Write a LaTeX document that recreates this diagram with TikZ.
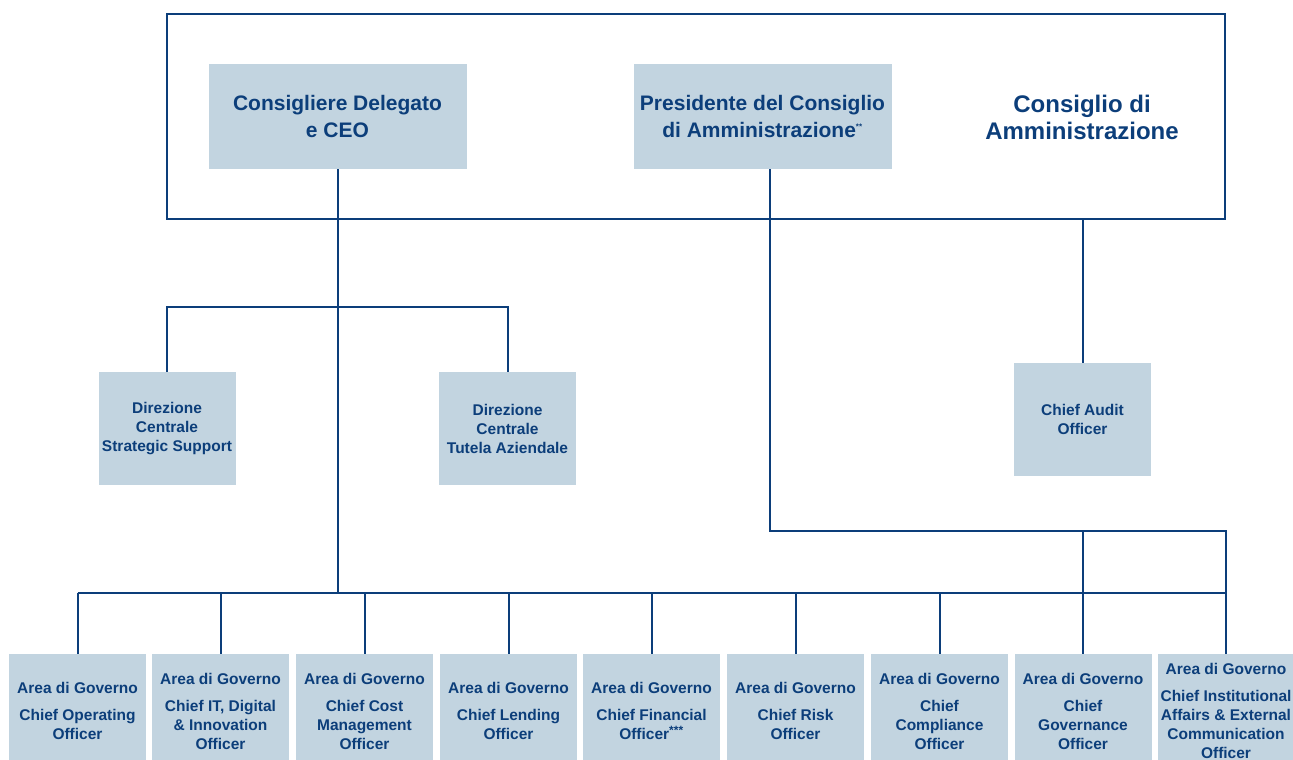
\documentclass[tikz,border=0pt]{standalone}
\usepackage{fontspec}
\setmainfont{Liberation Sans}
\definecolor{navy}{RGB}{12,62,122}
\definecolor{paleblue}{RGB}{194,212,224}

\begin{document}
\begin{tikzpicture}[x=1pt, y=-1pt,
                box/.style={rectangle, fill=paleblue, text=navy, align=center, inner sep=0pt, font=\bfseries\fontsize{15.5}{19}\selectfont},
                area/.style={box, minimum width=137pt, minimum height=114pt},
                dir/.style={box, minimum width=137pt, minimum height=113pt},
                head/.style={box, minimum width=258pt, minimum height=105pt, font=\bfseries\fontsize{21}{27}\selectfont},
                link/.style={draw=navy, line width=2pt}
            ]
                \useasboundingbox (0,0) rectangle (1293,760);
                \node[draw=navy, line width=2pt, minimum width=1058pt, minimum height=205pt] (board) at (696,116.5) {};
                \node[text=navy, align=center, font=\bfseries\fontsize{24}{27}\selectfont] (boardlbl) at (1082,117) {Consiglio di\\Amministrazione};
                \node[head] (ceo) at (337.5,116.5) {Consigliere Delegato\\e CEO};
                \node[head] (pres) at (762.5,116.5) {Presidente del Consiglio\\di Amministrazione\textsuperscript{\fontsize{8}{8}\selectfont **}};
                \node[dir] (strat) at (167,428.5) {Direzione\\Centrale\\Strategic Support};
                \node[dir] (tutela) at (507.5,428.5) {Direzione\\Centrale\\Tutela Aziendale};
                \node[dir] (audit) at (1082.5,419.5) {Chief Audit\\Officer};
                \node[area] (a1) at (77.5,711) {Area di Governo\\[8pt]Chief Operating\\Officer};
                \node[area] (a2) at (220.5,711) {Area di Governo\\[8pt]Chief IT, Digital\\\& Innovation\\Officer};
                \node[area] (a3) at (364.5,711) {Area di Governo\\[8pt]Chief Cost\\Management\\Officer};
                \node[area] (a4) at (508.5,711) {Area di Governo\\[8pt]Chief Lending\\Officer};
                \node[area] (a5) at (651.5,711) {Area di Governo\\[8pt]Chief Financial\\Officer\textsuperscript{\fontsize{12}{12}\selectfont ***}};
                \node[area] (a6) at (795.5,711) {Area di Governo\\[8pt]Chief Risk\\Officer};
                \node[area] (a7) at (939.5,711) {Area di Governo\\[8pt]Chief\\Compliance\\Officer};
                \node[area] (a8) at (1083,711) {Area di Governo\\[8pt]Chief\\Governance\\Officer};
                \node[area] (a9) at (1226,711) {Area di Governo\\[8pt]Chief Institutional\\Affairs \& External\\Communication\\Officer};

                \coordinate (bus) at (337.5,593);
                \coordinate (dirhub) at (337.5,307);
                \coordinate (presdrop) at (770,531);
                \coordinate (rail) at (1226,531);

                \draw[link] (ceo) -- (bus);
                \draw[link] (strat) |- (dirhub) -| (tutela);
                \draw[link] (a1 |- bus) -- (a9 |- bus);
                \draw[link] (a1) -- (a1 |- bus);
                \draw[link] (a2) -- (a2 |- bus);
                \draw[link] (a3) -- (a3 |- bus);
                \draw[link] (a4) -- (a4 |- bus);
                \draw[link] (a5) -- (a5 |- bus);
                \draw[link] (a6) -- (a6 |- bus);
                \draw[link] (a7) -- (a7 |- bus);
                \draw[link] (presdrop |- pres.south) -- (presdrop) -- (rail) -- (a9);
                \draw[link] (a8 |- rail) -- (a8);
                \draw[link] (audit |- board.south) -- (audit);
            \end{tikzpicture}
\end{document}
